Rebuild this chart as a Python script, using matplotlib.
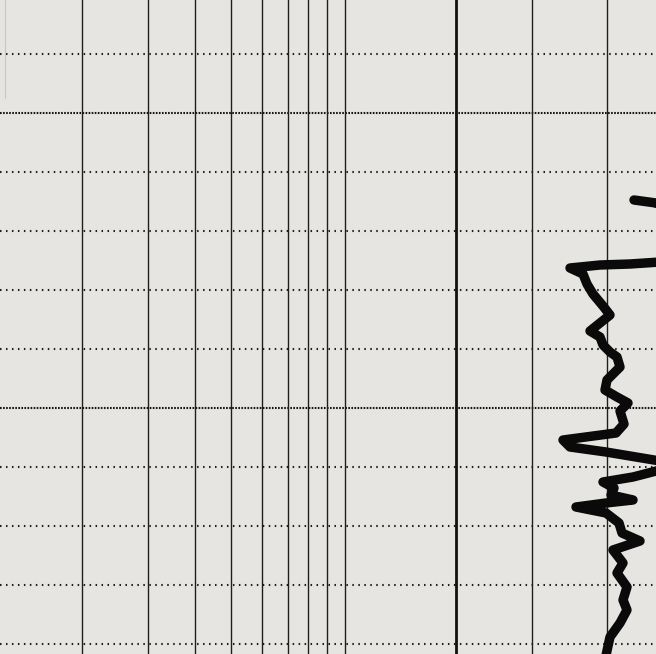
import matplotlib
matplotlib.use("Agg")
import matplotlib.pyplot as plt

plt.rcParams['lines.scale_dashes'] = False

# Chart paper grid (horizontal position units across the sheet, depth units down)
vertical_lines = [82, 148, 195, 231, 262, 288, 308, 327, 345, 532, 607]
major_vertical = [456]
dotted_depths = [54, 172, 231, 290, 349, 467, 526, 585, 644]
major_depths = [113, 408]

# Recorded trace (reading, depth); parts run off the right edge of the sheet
trace_x = [634, 656, 700, 660, 630, 600, 570, 583, 587, 593, 603, 610, 600, 590,
           600, 603, 610, 617, 620, 607, 605, 617, 628, 620, 624, 616, 563, 570,
           606, 660, 700, 660, 633, 603, 614, 611, 633, 606, 576, 606, 619, 622,
           640, 613, 623, 617, 627, 623, 627, 620, 610, 605]
trace_depth = [200, 203, 230, 262, 264, 265, 268, 274, 284, 294, 306, 315, 323, 331,
               337, 345, 352, 357, 367, 380, 390, 397, 403, 411, 424, 433, 440, 447,
               452, 461, 465, 470, 477, 482, 488, 495, 500, 503, 507, 513, 523, 533,
               541, 550, 563, 573, 587, 600, 610, 623, 637, 660]

bg = '#e7e5e1'
ink = '#1e1e1e'

fig = plt.figure(figsize=(6.56, 6.54), dpi=100)
fig.patch.set_facecolor(bg)
ax = fig.add_axes([0, 0, 1, 1])
ax.set_facecolor(bg)
ax.set_xlim(0, 656)
ax.set_ylim(654, 0)
ax.axis('off')

for y in dotted_depths:
    ax.axhline(y, color=ink, lw=1.5, linestyle=(0, (1.1, 3.2)), zorder=1)
for y in major_depths:
    ax.axhline(y, color='#141414', lw=1.5, linestyle=(0, (1.2, 1.0)), zorder=1)
for x in vertical_lines:
    ax.axvline(x, color=ink, lw=1.0, zorder=2)
for x in major_vertical:
    ax.axvline(x, color='#111111', lw=2.0, zorder=2)
ax.axvline(5, color='#c8c6c2', lw=0.8, ymin=0.85, ymax=1.0, zorder=1)

ax.plot(trace_x, trace_depth, color='#0a0a0a', lw=6.8, solid_joinstyle='round',
        solid_capstyle='round', zorder=3)

fig.savefig('out.png', dpi=100, facecolor=bg)
